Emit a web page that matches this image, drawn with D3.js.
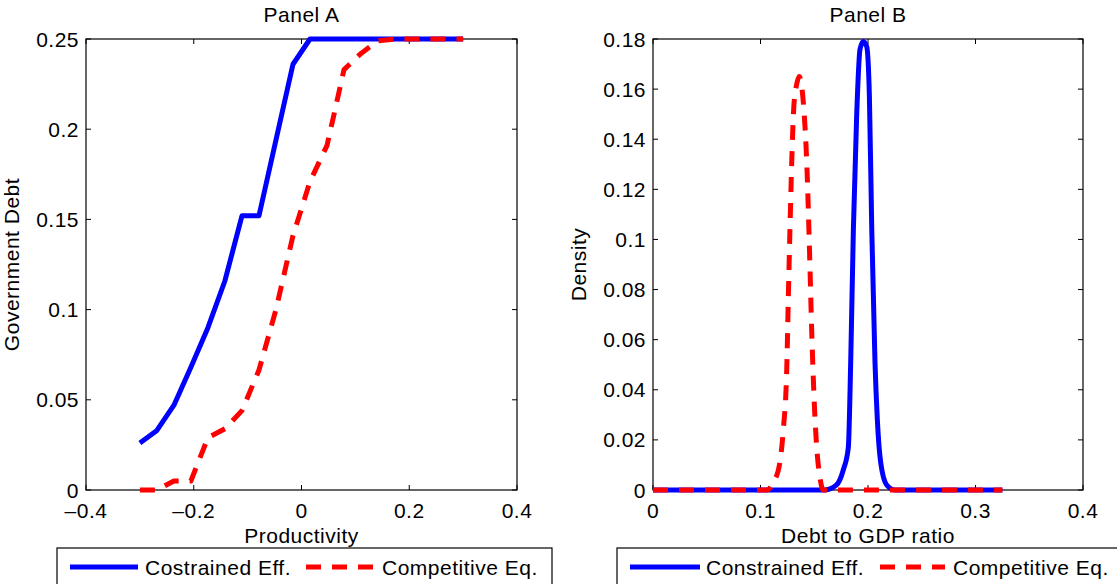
<!DOCTYPE html>
<html>
<head>
<meta charset="utf-8">
<script src="https://cdn.jsdelivr.net/npm/d3@7"></script>
<style>
  body { margin: 0; background: #fff; }
  svg text { font-family: "Liberation Sans", Arial, sans-serif; font-size: 21px; letter-spacing: 0.5px; fill: #000; }
</style>
</head>
<body>
<div id="main"></div>
<script>
// Panel A : government debt policy vs productivity
const prodX = [-0.3, -0.2684, -0.2368, -0.2053, -0.1737, -0.1421, -0.1105, -0.0789, -0.0474, -0.0158,
               0.0158, 0.0474, 0.0789, 0.1105, 0.1421, 0.1737, 0.2053, 0.2368, 0.2684, 0.3];
const debtCE = [0.026, 0.033, 0.047, 0.068, 0.090, 0.116, 0.152, 0.152, 0.194, 0.236,
                0.25, 0.25, 0.25, 0.25, 0.25, 0.25, 0.25, 0.25, 0.25, 0.25];
const debtCompEq = [0, 0, 0.005, 0.005, 0.029, 0.034, 0.044, 0.0665, 0.100, 0.141,
                    0.171, 0.191, 0.233, 0.242, 0.249, 0.25, 0.25, 0.25, 0.25, 0.25];

// Panel B : density of debt to GDP ratio
const ratioCE = [0, 0.160, 0.1707, 0.177, 0.1817, 0.1839, 0.1864, 0.1895, 0.1926, 0.1957, 0.1988,
                 0.2013, 0.2035, 0.2065, 0.2087, 0.2118, 0.2174, 0.225, 0.325];
const densCE = [0, 0, 0.002, 0.008, 0.017, 0.051, 0.104, 0.150, 0.176, 0.179, 0.177,
                0.157, 0.104, 0.051, 0.028, 0.011, 0.002, 0, 0];
const ratioCompEq = [0, 0.1057, 0.112, 0.118, 0.1212, 0.1244, 0.1259, 0.1274, 0.129, 0.131, 0.1337,
                     0.136, 0.138, 0.1405, 0.143, 0.1455, 0.1476, 0.1498, 0.1523, 0.1553, 0.1584, 0.325];
const densCompEq = [0, 0, 0.003, 0.011, 0.024, 0.048, 0.077, 0.104, 0.130, 0.153, 0.162,
                    0.165, 0.162, 0.151, 0.131, 0.097, 0.064, 0.037, 0.017, 0.005, 0, 0];

const ticksA_x = [-0.4, -0.2, 0, 0.2, 0.4];
const ticksA_y = [0, 0.05, 0.1, 0.15, 0.2, 0.25];
const ticksB_x = [0, 0.1, 0.2, 0.3, 0.4];
const ticksB_y = [0, 0.02, 0.04, 0.06, 0.08, 0.1, 0.12, 0.14, 0.16, 0.18];

const blue = "#0000ff", red = "#ff0000";
const width = 1117, height = 584;

const fmt = v => v === 0 ? "0" : (v < 0 ? "\u2013" : "") + String(Math.abs(+v.toFixed(3)));

function panel (svg, opt) {
  const x = d3.scaleLinear().domain(opt.xdom).range([opt.left, opt.right]);
  const y = d3.scaleLinear().domain(opt.ydom).range([490, 39]);
  const g = svg.append("g");

  // box
  g.append("rect")
    .attr("x", opt.left).attr("y", 39)
    .attr("width", opt.right - opt.left).attr("height", 451)
    .attr("fill", "none").attr("stroke", "#000").attr("stroke-width", 1.2);

  // ticks inside, all four sides (matlab style)
  const tk = 5;
  g.append("g").selectAll("path")
    .data(opt.xticks)
    .join("path")
      .attr("d", d => `M${x(d)},490v${-tk}M${x(d)},39v${tk}`)
      .attr("stroke", "#000");
  g.append("g").selectAll("path")
    .data(opt.yticks)
    .join("path")
      .attr("d", d => `M${opt.left},${y(d)}h${tk}M${opt.right},${y(d)}h${-tk}`)
      .attr("stroke", "#000");

  g.append("g").selectAll("text")
    .data(opt.xticks)
    .join("text")
      .attr("x", d => x(d)).attr("y", 518)
      .attr("text-anchor", "middle")
      .text(fmt);
  g.append("g").selectAll("text")
    .data(opt.yticks)
    .join("text")
      .attr("x", opt.left - 7).attr("y", d => y(d) + 7.5)
      .attr("text-anchor", "end")
      .text(fmt);

  g.append("text")
    .attr("x", (opt.left + opt.right) / 2).attr("y", 22)
    .attr("text-anchor", "middle")
    .text(opt.title);
  g.append("text")
    .attr("x", (opt.left + opt.right) / 2).attr("y", 543)
    .attr("text-anchor", "middle")
    .text(opt.xlabel);
  g.append("text")
    .attr("transform", `translate(${opt.ylabelX},${(39 + 490) / 2}) rotate(-90)`)
    .attr("text-anchor", "middle")
    .text(opt.ylabel);

  const line = d3.line()
    .x(d => x(d[0]))
    .y(d => y(d[1]))
    .curve(opt.curve);

  opt.series.forEach(s => {
    g.append("path")
      .datum(d3.zip(s.xs, s.ys))
      .attr("d", line)
      .attr("fill", "none")
      .attr("stroke", s.color)
      .attr("stroke-width", 5)
      .attr("stroke-linejoin", "round")
      .attr("stroke-dasharray", s.dash ? "15,11" : null);
  });

  // legend
  const lg = svg.append("g");
  lg.append("rect")
    .attr("x", opt.legend.x).attr("y", 548)
    .attr("width", opt.legend.w).attr("height", 50)
    .attr("fill", "#fff").attr("stroke", "#000").attr("stroke-width", 1.2);
  opt.legend.items.forEach(it => {
    lg.append("path")
      .attr("d", `M${it.x0},567H${it.x1}`)
      .attr("stroke", it.color).attr("stroke-width", 5)
      .attr("stroke-dasharray", it.dash ? "15,11" : null);
    lg.append("text")
      .attr("x", it.tx).attr("y", 575)
      .text(it.label);
  });
}

function main () {
  const svg = d3.create("svg")
    .attr("width", width)
    .attr("height", height)
    .attr("viewBox", [0, 0, width, height]);

  panel(svg, {
    left: 86, right: 517,
    xdom: [-0.4, 0.4], ydom: [0, 0.25],
    xticks: ticksA_x, yticks: ticksA_y,
    title: "Panel A", xlabel: "Productivity", ylabel: "Government Debt", ylabelX: 19,
    curve: d3.curveLinear,
    series: [
      {xs: prodX, ys: debtCE, color: blue, dash: false},
      {xs: prodX, ys: debtCompEq, color: red, dash: true}
    ],
    legend: {x: 57, w: 495, items: [
      {x0: 70, x1: 138, color: blue, dash: false, tx: 145, label: "Costrained Eff."},
      {x0: 306, x1: 375, color: red, dash: true, tx: 382, label: "Competitive Eq."}
    ]}
  });

  panel(svg, {
    left: 653, right: 1083,
    xdom: [0, 0.4], ydom: [0, 0.18],
    xticks: ticksB_x, yticks: ticksB_y,
    title: "Panel B", xlabel: "Debt to GDP ratio", ylabel: "Density", ylabelX: 586,
    curve: d3.curveMonotoneX,
    series: [
      {xs: ratioCE, ys: densCE, color: blue, dash: false},
      {xs: ratioCompEq, ys: densCompEq, color: red, dash: true}
    ],
    legend: {x: 617, w: 510, items: [
      {x0: 630, x1: 700, color: blue, dash: false, tx: 706, label: "Constrained Eff."},
      {x0: 880, x1: 945, color: red, dash: true, tx: 953, label: "Competitive Eq."}
    ]}
  });

  return svg.node();
}

document.getElementById("main").appendChild(main());
</script>
</body>
</html>
